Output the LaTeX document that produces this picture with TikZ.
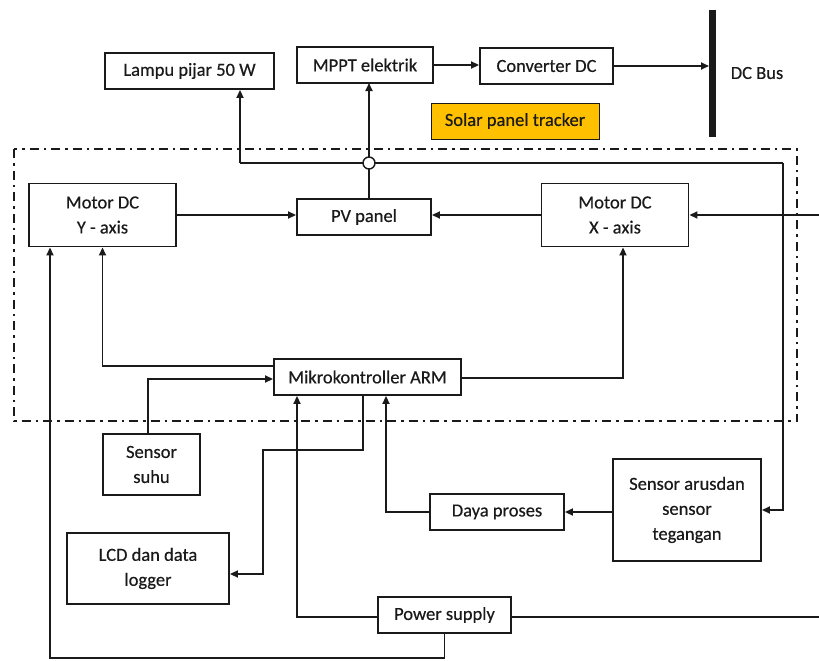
\documentclass[tikz,border=0pt]{standalone}
\usepackage{fontspec}
\setmainfont{Carlito}[FakeBold=0.4]
\usetikzlibrary{arrows.meta}
\definecolor{tracker}{HTML}{FFC000}
\definecolor{ink}{HTML}{1A1A1A}
\begin{document}
\begin{tikzpicture}[x=1pt,y=-1pt,
  box/.style={draw=ink,line width=1.9pt,fill=white,inner sep=0pt,align=center,text=ink,font=\fontsize{18.5}{25}\selectfont},
  wire/.style={draw=ink,line width=1.7pt},
  arr/.style={wire,-{Triangle[length=8pt,width=7pt]}}]
\useasboundingbox (0,0) rectangle (819,661);
% frame
\draw[ink,line width=2.6pt,dash pattern=on 9pt off 5pt on 2.5pt off 5pt] (14,149) rectangle (797,421);
% nodes
\node[box,minimum width=169pt,minimum height=36pt] (lampu) at (189.5,71) {Lampu pijar 50 W};
\node[box,minimum width=136pt,minimum height=36pt] (mppt) at (365,65) {MPPT elektrik};
\node[box,minimum width=133pt,minimum height=36pt] (conv) at (546.5,66) {Converter DC};
\node[box,fill=tracker,line width=1pt,minimum width=168pt,minimum height=36pt] (spt) at (515,121) {Solar panel tracker};
\node[text=ink,font=\fontsize{18.5}{25}\selectfont] (dcbus) at (757,73) {DC Bus};
\node[box,minimum width=147pt,minimum height=63pt] (motory) at (102.5,215) {Motor DC\\Y - axis};
\node[box,minimum width=134pt,minimum height=36pt] (pv) at (364,217) {PV panel};
\node[box,minimum width=147pt,minimum height=63pt] (motorx) at (615,215) {Motor DC\\X - axis};
\node[box,minimum width=187pt,minimum height=36pt] (mikro) at (367.5,377) {Mikrokontroller ARM};
\node[box,minimum width=97pt,minimum height=61pt] (suhu) at (151.5,464.5) {Sensor\\suhu};
\node[box,minimum width=162pt,minimum height=71pt] (lcd) at (148,568.5) {LCD dan data\\logger};
\node[box,minimum width=134pt,minimum height=36pt] (daya) at (497,512) {Daya proses};
\node[box,minimum width=148pt,minimum height=102pt] (sarus) at (687,510) {Sensor arusdan\\sensor\\tegangan};
\node[box,minimum width=133pt,minimum height=36pt] (ps) at (444.5,615) {Power supply};
% coordinates
\coordinate (busin) at (709,66);
\coordinate (lt) at (240,163);
\coordinate (rt) at (783,163);
\coordinate (xin) at (819,215);
\coordinate (psout) at (819,617);
\coordinate (lk) at (263,450);
\coordinate (bot) at (444.5,658);
% DC bus
\draw[ink,line width=7pt] (712,10) -- (712,137);
% connectors
\draw[arr] (mppt.east) -- (mppt.east -| conv.west);
\draw[arr] (conv.east) -- (busin);
\draw[arr] (369,199) -- (369,83);
\draw[wire] (369,163) -- (lt);
\draw[arr] (lt) -- (lampu.south -| lt);
\draw[wire] (369,163) -- (rt);
\draw[arr] (rt) |- (sarus.east);
\node[draw=ink,line width=1.4pt,fill=white,circle,inner sep=0pt,minimum size=12pt] (J) at (369,163) {};
\draw[arr] (motory.east) -- (motory.east -| pv.west);
\draw[arr] (motorx.west) -- (motorx.west -| pv.east);
\draw[arr] (xin) -- (motorx.east);
\draw[arr] ([yshift=11pt]mikro.west) -| (motory.south);
\draw[arr] ([xshift=-3.5pt]suhu.north) |- ([yshift=-2pt]mikro.west);
\draw[arr] ([yshift=-1pt]mikro.east) -| ([xshift=8pt]motorx.south);
\draw[arr] ([yshift=-2pt]ps.west) -| ([xshift=-70.5pt]mikro.south);
\draw[arr] (daya.west) -| ([xshift=18.5pt]mikro.south);
\draw[arr] ([xshift=-4.5pt]mikro.south) |- (lk) |- ([yshift=-5.5pt]lcd.east);
\draw[arr] (sarus.west |- daya.east) -- (daya.east);
\draw[wire] ([yshift=-2pt]ps.east) -- (psout);
\draw[arr] (ps.south) -- (bot) -| ([xshift=-52.5pt]motory.south);
\end{tikzpicture}
\end{document}
